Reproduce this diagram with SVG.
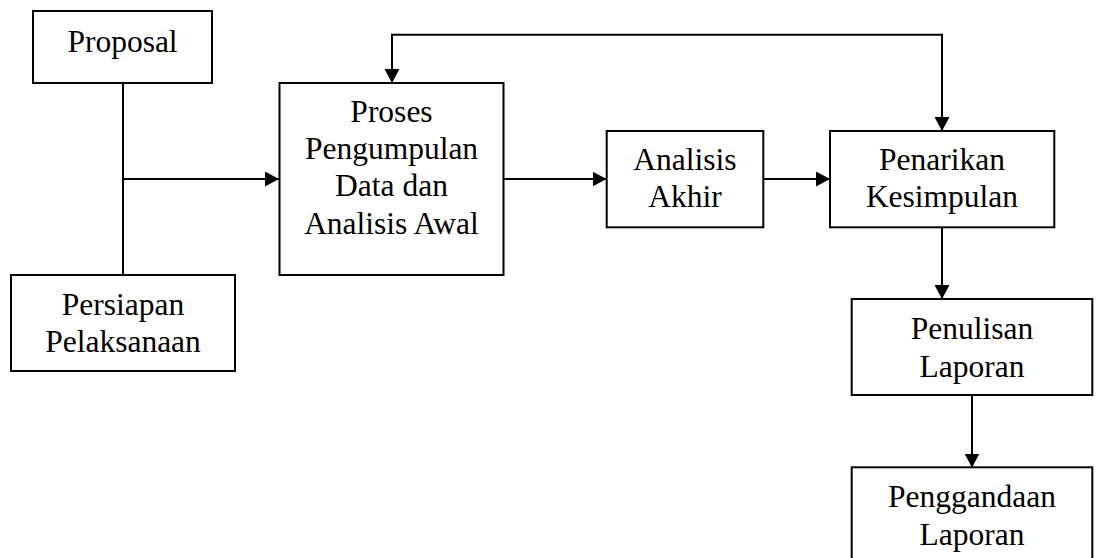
<svg xmlns="http://www.w3.org/2000/svg" width="1101" height="558" viewBox="0 0 1101 558">
<style>
.box{fill:#fff;stroke:#000;stroke-width:2}
.t{font-family:"Liberation Serif","Times New Roman",serif;font-size:31.5px;fill:#000;text-anchor:middle}
.c{fill:none;stroke:#000;stroke-width:2}
</style>
<defs>
<marker id="ah" markerWidth="14" markerHeight="15" refX="14" refY="7.5" orient="auto" markerUnits="userSpaceOnUse">
<path d="M0,0 L14,7.5 L0,15 Z" fill="#000"/>
</marker>
</defs>
<rect width="1101" height="558" fill="#fff"/>
<g id="connectors">
<path class="c" d="M123,83 V275"/>
<path class="c" d="M123,179 H279" marker-end="url(#ah)"/>
<path class="c" d="M503.5,179 H606.5" marker-end="url(#ah)"/>
<path class="c" d="M763.5,179 H830" marker-end="url(#ah)"/>
<path class="c" d="M667,34.7 H392 V83" marker-end="url(#ah)"/>
<path class="c" d="M667,34.7 H942 V131" marker-end="url(#ah)"/>
<path class="c" d="M942,227.5 V299" marker-end="url(#ah)"/>
<path class="c" d="M972,395 V467.5" marker-end="url(#ah)"/>
</g>
<g id="proposal">
<rect class="box" x="33" y="11" width="179" height="72"/>
<text class="t" x="122.5" y="51.7">Proposal</text>
</g>
<g id="persiapan">
<rect class="box" x="11" y="275" width="224" height="96"/>
<text class="t" x="123" y="315">Persiapan</text>
<text class="t" x="123" y="351.7">Pelaksanaan</text>
</g>
<g id="proses">
<rect class="box" x="279.5" y="83" width="224" height="192"/>
<text class="t" x="391.5" y="121.7">Proses</text>
<text class="t" x="391.5" y="158.5">Pengumpulan</text>
<text class="t" x="391.5" y="196">Data dan</text>
<text class="t" x="391.5" y="234">Analisis Awal</text>
</g>
<g id="analisis-akhir">
<rect class="box" x="606.7" y="131" width="156.6" height="96.3"/>
<text class="t" x="685" y="170">Analisis</text>
<text class="t" x="685" y="207">Akhir</text>
</g>
<g id="penarikan">
<rect class="box" x="830" y="131" width="224.3" height="96.3"/>
<text class="t" x="942" y="170">Penarikan</text>
<text class="t" x="942" y="207">Kesimpulan</text>
</g>
<g id="penulisan">
<rect class="box" x="851.7" y="299" width="240.6" height="96"/>
<text class="t" x="972" y="339">Penulisan</text>
<text class="t" x="972" y="376.7">Laporan</text>
</g>
<g id="penggandaan">
<rect class="box" x="851.7" y="467.3" width="240.6" height="96"/>
<text class="t" x="972" y="507.3">Penggandaan</text>
<text class="t" x="972" y="545">Laporan</text>
</g>
</svg>
